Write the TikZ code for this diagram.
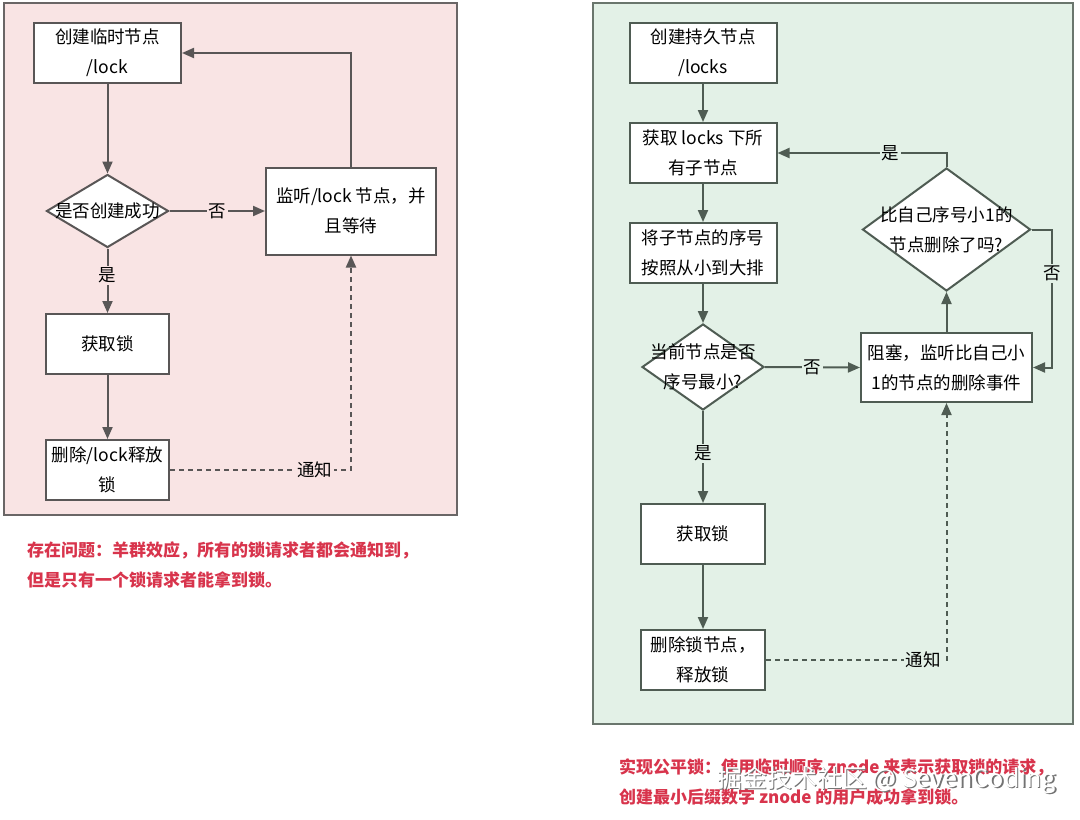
\documentclass[tikz,border=0pt]{standalone}
\usepackage{fontspec}
\setmainfont{Noto Sans CJK SC}
\usetikzlibrary{shapes.geometric,arrows.meta}
\definecolor{pinkbg}{HTML}{F9E4E4}
\definecolor{greenbg}{HTML}{E3F1E7}
\definecolor{lline}{HTML}{595656}
\definecolor{rline}{HTML}{4F5C53}
\definecolor{lborder}{HTML}{6A6666}
\definecolor{rborder}{HTML}{6A766D}
\definecolor{redtxt}{HTML}{D8344C}
\begin{document}
\begin{tikzpicture}[x=1pt,y=-1pt,
  txt/.style={align=center,font=\fontsize{17.5}{30}\selectfont,inner sep=0pt},
  lbox/.style={txt,draw=lline,line width=2pt,fill=white},
  rbox/.style={txt,draw=rline,line width=2pt,fill=white},
  ldia/.style={diamond,draw=lline,line width=2pt,fill=white,inner sep=0pt},
  rdia/.style={diamond,draw=rline,line width=2pt,fill=white,inner sep=0pt},
  larr/.style={draw=lline,line width=2pt,-{Triangle[length=12pt,width=10pt]}},
  rarr/.style={draw=rline,line width=2pt,-{Triangle[length=12pt,width=10pt]}},
  dsh/.style={dash pattern=on 5pt off 4pt},
  llab/.style={txt,fill=pinkbg,inner sep=2pt,text=black},
  rlab/.style={txt,fill=greenbg,inner sep=2pt,text=black},
  captxt/.style={anchor=west,inner sep=0pt,text=redtxt,font=\fontsize{17}{20}\selectfont\bfseries}
]
\useasboundingbox (0,0) rectangle (1080,820);
\fill[white] (0,0) rectangle (1080,820);
% ---------- left panel ----------
\filldraw[fill=pinkbg,draw=lborder,line width=2pt] (4,3) rectangle (457,515);
\node[lbox,minimum width=147pt,minimum height=60pt] (a1) at (107.5,53) {创建临时节点\\/lock};
\node[ldia,minimum width=122pt,minimum height=73pt] (a2) at (107.5,211) {};
\node[txt] at (a2) {是否创建成功};
\node[lbox,minimum width=170pt,minimum height=87pt] (a3) at (351,211) {监听/lock 节点，并\\且等待};
\node[lbox,minimum width=123pt,minimum height=60pt] (a4) at (107.5,344) {获取锁};
\node[lbox,minimum width=123pt,minimum height=60pt] (a5) at (107.5,470) {删除/lock释放\\锁};
\draw[larr] (a1.south) -- (a2.north);
\draw[larr] (a2.east) -- node[llab]{否} (a3.west);
\draw[larr] (a2.south) -- node[llab,pos=0.42]{是} (a4.north);
\draw[larr] (a4.south) -- (a5.north);
\draw[larr] (a3.north) |- (a1.east);
\draw[larr,dsh] (a5.east) -| node[llab,pos=0.4]{通知} (a3.south);
\node[captxt] (c1) at (27,550) {存在问题：羊群效应，所有的锁请求者都会通知到，};
\node[captxt] (c2) at (27,580) {但是只有一个锁请求者能拿到锁。};
% ---------- right panel ----------
\filldraw[fill=greenbg,draw=rborder,line width=2pt] (593,3) rectangle (1073,724);
\node[rbox,minimum width=147pt,minimum height=60pt] (b1) at (703,53) {创建持久节点\\/locks};
\node[rbox,minimum width=147pt,minimum height=60pt] (b2) at (703,153) {获取 locks 下所\\有子节点};
\node[rbox,minimum width=147pt,minimum height=60pt] (b3) at (703,253) {将子节点的序号\\按照从小到大排};
\node[rdia,minimum width=122pt,minimum height=86pt] (b4) at (703,367) {};
\node[txt] at (b4) {当前节点是否\\序号最小?};
\node[rbox,minimum width=171pt,minimum height=69pt] (b5) at (946.5,367.5) {阻塞，监听比自己小\\1的节点的删除事件};
\node[rdia,minimum width=168pt,minimum height=123pt] (b6) at (946.5,229.5) {};
\node[txt] at (b6) {比自己序号小1的\\节点删除了吗?};
\node[rbox,minimum width=124pt,minimum height=60pt] (b7) at (703,534) {获取锁};
\node[rbox,minimum width=124pt,minimum height=60pt] (b8) at (703,660) {删除锁节点，\\释放锁};
\coordinate (r1) at (1052,229.5);
\coordinate (r2) at (1052,367.5);
\draw[rarr] (b1.south) -- (b2.north);
\draw[rarr] (b2.south) -- (b3.north);
\draw[rarr] (b3.south) -- (b4.north);
\draw[rarr] (b4.east) -- node[rlab]{否} (b5.west);
\draw[rarr] (b4.south) -- node[rlab,pos=0.46]{是} (b7.north);
\draw[rarr] (b7.south) -- (b8.north);
\draw[rarr] (b5.north) -- (b6.south);
\draw[rarr] (b6.north) |- node[rlab,pos=0.665]{是} (b2.east);
\draw[rarr] (b6.east) -- (r1) -- node[rlab,pos=0.32]{否} (r2) -- (b5.east);
\draw[rarr,dsh] (b8.east) -| node[rlab,pos=0.435]{通知} (b5.south);
\node[captxt] (c3) at (619,767) {实现公平锁：使用临时顺序 znode 来表示获取锁的请求，};
\node[captxt] (c4) at (619,797) {创建最小后缀数字 znode 的用户成功拿到锁。};
% watermark
\node[anchor=west,inner sep=0pt,text=black!55,font=\fontsize{25}{27}\selectfont] (w0) at (718.5,781.5) {掘金技术社区 @ SevenCoding};
\node[anchor=west,inner sep=0pt,text=white,font=\fontsize{25}{27}\selectfont] (w1) at (717,780) {掘金技术社区 @ SevenCoding};
\end{tikzpicture}
\end{document}
